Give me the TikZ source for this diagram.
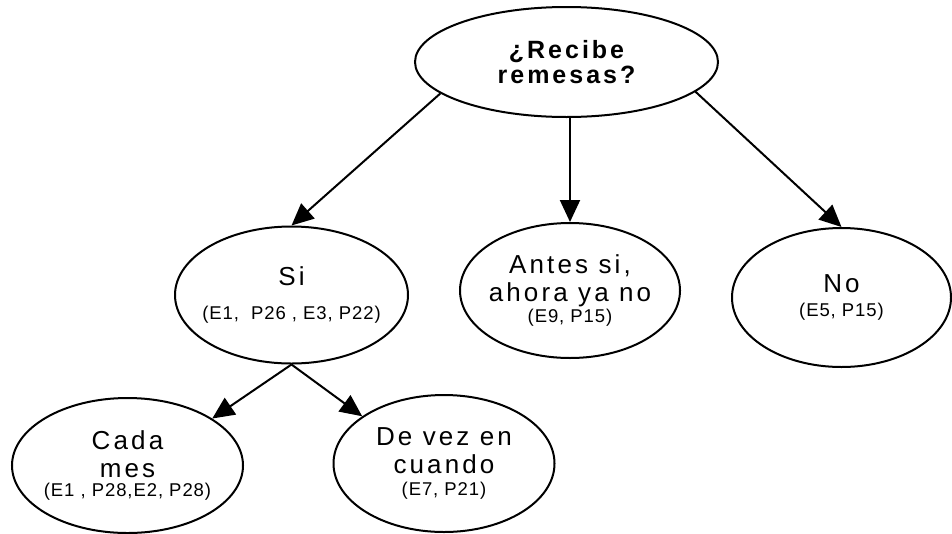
\documentclass[tikz,border=0pt]{standalone}
\usepackage{fontspec}
\setmainfont{Liberation Sans}
\newfontfamily\widefont[LetterSpace=12]{Liberation Sans}
\newfontfamily\reffont[LetterSpace=5]{Liberation Sans}
\usetikzlibrary{shapes.geometric,arrows.meta}

\newcommand{\refs}[1]{{\reffont\fontsize{18.5}{20}\selectfont #1}}

\begin{document}
\begin{tikzpicture}[
    % Define node styles
    x = 1pt, y = -1pt,
    elem/.style={ellipse, draw, line width=2pt, inner ysep=0pt, inner xsep=-20pt, align=center, font=\widefont\fontsize{26}{28}\selectfont},
    question/.style={elem, font=\widefont\bfseries\fontsize{25}{25}\selectfont},
    arr/.style={-{Triangle[length=22pt, width=20pt]}, line width=2pt},
]
\useasboundingbox (0,0) rectangle (952,533);

% Main nodes
\node[question, minimum width=303pt, minimum height=110pt] (remesas) at (566.5,62) {¿Recibe\\remesas?};

\node[elem, minimum width=233pt, minimum height=137pt] (si) at (291.5,295) {Si\\[6pt]\refs{(E1,~ P26 , E3, P22)}};
\node[elem, minimum width=220pt, minimum height=135pt] (antes) at (570,290.5) {Antes si,\\ahora ya no\\[-7pt]\refs{(E9, P15)}};
\node[elem, minimum width=219pt, minimum height=139pt] (no) at (841.5,297.5) {No\\[-4pt]\refs{(E5, P15)}};

\node[elem, minimum width=231pt, minimum height=135pt] (cada) at (127.5,465.5) {Cada\\mes\\[-9pt]\refs{(E1 , P28,E2, P28)}};
\node[elem, minimum width=221pt, minimum height=137pt] (devez) at (444,463.5) {De vez en\\cuando\\[-6pt]\refs{(E7, P21)}};

% Arrows
\draw[arr] (remesas.194) -- (si.north);
\draw[arr] (antes.north |- remesas.south) -- (antes.north);
\draw[arr] (remesas.347) -- (no.north);

\draw[arr] (si.south) -- (cada.29);
\draw[arr] (si.south) -- (devez.150);

\end{tikzpicture}
\end{document}
